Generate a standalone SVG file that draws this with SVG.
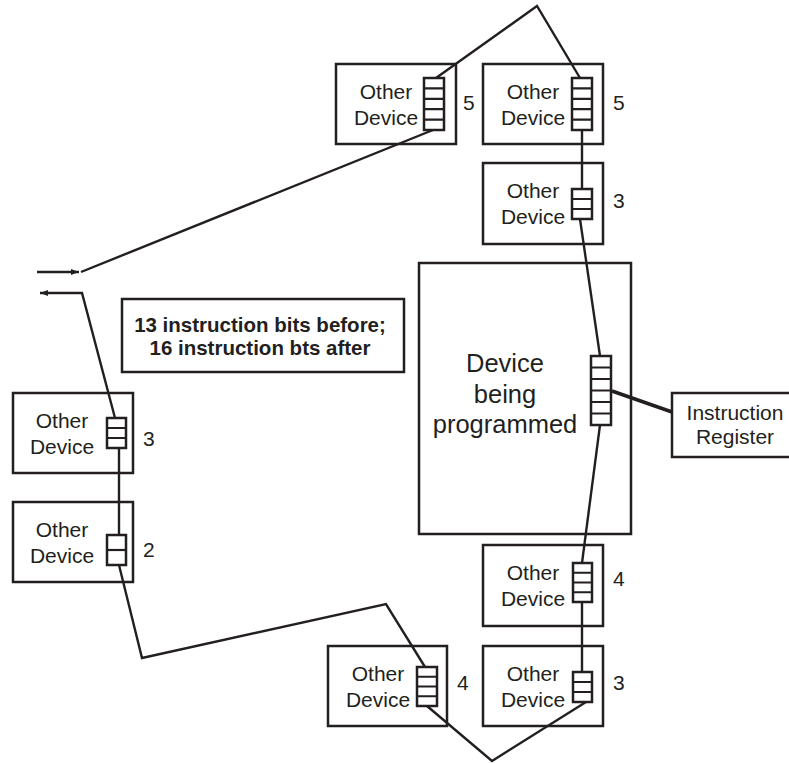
<svg xmlns="http://www.w3.org/2000/svg" width="789" height="763" viewBox="0 0 789 763">
<defs>
<style>
.box{fill:none;stroke:#231f20;stroke-width:2.5}
.reg{fill:#fff;stroke:#231f20;stroke-width:2.5}
.cell{stroke:#231f20;stroke-width:2.2}
.w{stroke:#231f20;stroke-width:2.4;fill:none;stroke-linejoin:miter}
.t{font-family:"Liberation Sans",Arial,sans-serif;font-size:21px;fill:#231f20;text-anchor:middle}
.n{font-family:"Liberation Sans",Arial,sans-serif;font-size:21px;fill:#231f20}
.b{font-family:"Liberation Sans",Arial,sans-serif;font-size:20.5px;font-weight:bold;fill:#231f20;text-anchor:middle}
.big{font-family:"Liberation Sans",Arial,sans-serif;font-size:25.5px;fill:#231f20;text-anchor:middle}
</style>
<marker id="ah" markerUnits="userSpaceOnUse" markerWidth="10" markerHeight="8" refX="8" refY="4" orient="auto">
<path d="M0,1 L8,4 L0,7 Z" fill="#231f20"/>
</marker>
</defs>
<rect width="789" height="763" fill="#fff"/>

<g id="connectors">
<line class="w" x1="37" y1="272" x2="79" y2="272" marker-end="url(#ah)"/>
<path class="w" d="M81,272 L433,130"/>
<path class="w" d="M436,78 L537,6 L580,78"/>
<path class="w" d="M582,130 L582,189"/>
<path class="w" d="M580,219 L600,356"/>
<path class="w" d="M600,425 L582,563"/>
<path class="w" d="M582,602 L582,672"/>
<path class="w" d="M586,702 L492,761 L427,706"/>
<path class="w" d="M425,667 L386,604 L142,658 L119,565"/>
<path class="w" d="M119,535 L119,448"/>
<path class="w" d="M115,418 L82,293 L40,293" marker-end="url(#ah)"/>
<path d="M612,391 L672,412" stroke="#231f20" stroke-width="3.5" fill="none"/>
</g>

<g id="note">
<rect class="box" x="122" y="299" width="282" height="73"/>
<text class="b" x="260" y="332">13 instruction bits before;</text>
<text class="b" x="260" y="355">16 instruction bts after</text>
</g>

<g id="dev-l5">
<rect class="box" x="336" y="64" width="120" height="80"/>
<text class="t" x="386" y="99">Other</text>
<text class="t" x="386" y="125">Device</text>
<rect class="reg" x="424" y="78" width="20" height="52"/>
<path class="cell" d="M424,88.4H444M424,98.8H444M424,109.2H444M424,119.6H444"/>
<text class="n" x="463" y="110">5</text>
</g>

<g id="dev-r5">
<rect class="box" x="483" y="64" width="120" height="80"/>
<text class="t" x="533" y="99">Other</text>
<text class="t" x="533" y="125">Device</text>
<rect class="reg" x="572" y="78" width="20" height="52"/>
<path class="cell" d="M572,88.4H592M572,98.8H592M572,109.2H592M572,119.6H592"/>
<text class="n" x="613" y="110">5</text>
</g>

<g id="dev-r3a">
<rect class="box" x="483" y="163" width="120" height="81"/>
<text class="t" x="533" y="198">Other</text>
<text class="t" x="533" y="224">Device</text>
<rect class="reg" x="572" y="189" width="20" height="30"/>
<path class="cell" d="M572,199H592M572,209H592"/>
<text class="n" x="613" y="208">3</text>
</g>

<g id="dev-main">
<rect class="box" x="419" y="263" width="212" height="271"/>
<text class="big" x="505" y="372">Device</text>
<text class="big" x="505" y="403">being</text>
<text class="big" x="505" y="433">programmed</text>
<rect class="reg" x="591" y="356" width="20" height="69"/>
<path class="cell" d="M591,367.5H611M591,379H611M591,390.5H611M591,402H611M591,413.5H611"/>
</g>

<g id="instr-reg">
<rect class="box" x="672" y="393" width="125" height="64"/>
<text class="t" x="735" y="420">Instruction</text>
<text class="t" x="735" y="444">Register</text>
</g>

<g id="dev-r4">
<rect class="box" x="483" y="545" width="120" height="81"/>
<text class="t" x="533" y="580">Other</text>
<text class="t" x="533" y="606">Device</text>
<rect class="reg" x="573" y="563" width="19" height="39"/>
<path class="cell" d="M573,572.75H592M573,582.5H592M573,592.25H592"/>
<text class="n" x="613" y="586">4</text>
</g>

<g id="dev-r3b">
<rect class="box" x="483" y="646" width="120" height="80"/>
<text class="t" x="533" y="681">Other</text>
<text class="t" x="533" y="707">Device</text>
<rect class="reg" x="573" y="672" width="19" height="30"/>
<path class="cell" d="M573,682H592M573,692H592"/>
<text class="n" x="613" y="690">3</text>
</g>

<g id="dev-l4">
<rect class="box" x="328" y="646" width="119" height="80"/>
<text class="t" x="378" y="681">Other</text>
<text class="t" x="378" y="707">Device</text>
<rect class="reg" x="417" y="667" width="20" height="39"/>
<path class="cell" d="M417,676.75H437M417,686.5H437M417,696.25H437"/>
<text class="n" x="457" y="690">4</text>
</g>

<g id="dev-l3">
<rect class="box" x="13" y="393" width="120" height="80"/>
<text class="t" x="62" y="428">Other</text>
<text class="t" x="62" y="454">Device</text>
<rect class="reg" x="107" y="418" width="19" height="30"/>
<path class="cell" d="M107,428H126M107,438H126"/>
<text class="n" x="143" y="446">3</text>
</g>

<g id="dev-l2">
<rect class="box" x="13" y="502" width="120" height="80"/>
<text class="t" x="62" y="537">Other</text>
<text class="t" x="62" y="563">Device</text>
<rect class="reg" x="107" y="535" width="19" height="30"/>
<path class="cell" d="M107,550H126"/>
<text class="n" x="143" y="557">2</text>
</g>
</svg>
